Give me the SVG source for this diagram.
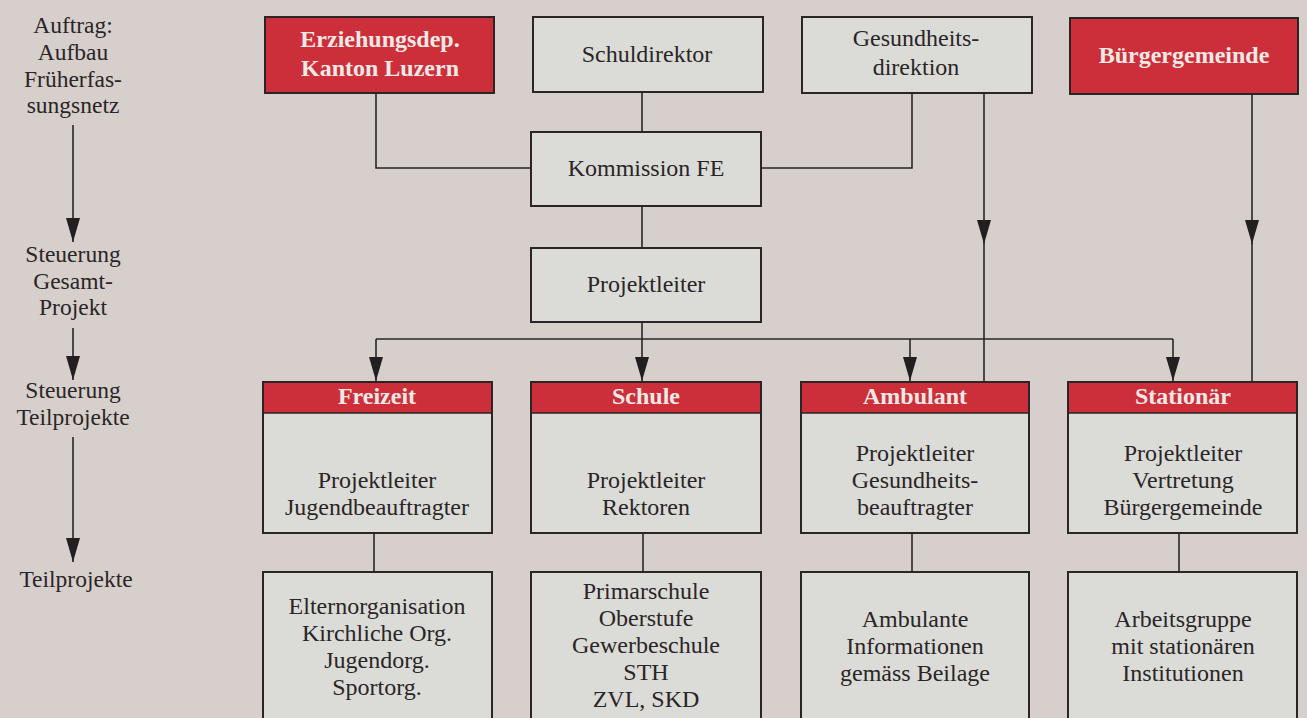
<svg xmlns="http://www.w3.org/2000/svg" width="1307" height="718" viewBox="0 0 1307 718">
<defs>
<style>
.bg{fill:#d7cfcc}
.box{fill:#dbdcd8;stroke:#2b2526;stroke-width:2}
.red{fill:#cd2f3a;stroke:#2b2526;stroke-width:2}
.hdr{fill:#cd2f3a}
.t{font-family:"Liberation Serif","Times New Roman",serif;font-size:24px;fill:#2a2526;text-anchor:middle}
.l{font-family:"Liberation Serif","Times New Roman",serif;font-size:23.5px;fill:#2a2526;text-anchor:middle}
.tb{font-family:"Liberation Serif","Times New Roman",serif;font-size:24px;font-weight:bold;fill:#efe9e6;text-anchor:middle}
.c{fill:none;stroke:#2b2526;stroke-width:1.6}
</style>
<marker id="ah" markerUnits="userSpaceOnUse" markerWidth="26" markerHeight="16" viewBox="0 -8 26 16" refX="24" refY="0" orient="auto">
<path d="M0,-7 L24,0 L0,7 Z" fill="#231e1f"/>
</marker>
</defs>
<rect class="bg" x="0" y="0" width="1307" height="718"/>

<g id="levels">
<text class="l" x="73" y="33">Auftrag:</text>
<text class="l" x="73" y="60">Aufbau</text>
<text class="l" x="73" y="86.5">Früherfas-</text>
<text class="l" x="73" y="113">sungsnetz</text>
<text class="l" x="73" y="262">Steuerung</text>
<text class="l" x="73" y="288.5">Gesamt-</text>
<text class="l" x="73" y="315">Projekt</text>
<text class="l" x="73" y="398">Steuerung</text>
<text class="l" x="73" y="425">Teilprojekte</text>
<text class="l" x="76" y="587">Teilprojekte</text>
</g>

<g id="connectors">
<path class="c" d="M73,125 V242" marker-end="url(#ah)"/>
<path class="c" d="M73,328 V380" marker-end="url(#ah)"/>
<path class="c" d="M73,437 V562" marker-end="url(#ah)"/>
<path class="c" d="M376,93 V168 H531"/>
<path class="c" d="M642,92 V132"/>
<path class="c" d="M912,93 V168 H761"/>
<path class="c" d="M642,206 V248"/>
<path class="c" d="M376,339 H1173"/>
<path class="c" d="M376,339 V381" marker-end="url(#ah)"/>
<path class="c" d="M642,322 V381" marker-end="url(#ah)"/>
<path class="c" d="M910,339 V381" marker-end="url(#ah)"/>
<path class="c" d="M1173,339 V381" marker-end="url(#ah)"/>
<path class="c" d="M984,93 V244" marker-end="url(#ah)"/>
<path class="c" d="M984,243 V382"/>
<path class="c" d="M1252,94 V244" marker-end="url(#ah)"/>
<path class="c" d="M1252,243 V382"/>
<path class="c" d="M374,533 V572"/>
<path class="c" d="M643,533 V572"/>
<path class="c" d="M912,533 V572"/>
<path class="c" d="M1179,533 V572"/>
</g>

<g id="erziehungsdep">
<rect class="red" x="265" y="17" width="229" height="76"/>
<text class="tb" x="380" y="47">Erziehungsdep.</text>
<text class="tb" x="380" y="76">Kanton Luzern</text>
</g>
<g id="schuldirektor">
<rect class="box" x="533" y="17" width="230" height="75"/>
<text class="t" x="647" y="62">Schuldirektor</text>
</g>
<g id="gesundheitsdirektion">
<rect class="box" x="802" y="17" width="230" height="76"/>
<text class="t" x="916" y="46">Gesundheits-</text>
<text class="t" x="916" y="75">direktion</text>
</g>
<g id="buergergemeinde">
<rect class="red" x="1070" y="18" width="228" height="76"/>
<text class="tb" x="1184" y="63">Bürgergemeinde</text>
</g>
<g id="kommission">
<rect class="box" x="531" y="132" width="230" height="74"/>
<text class="t" x="646" y="176">Kommission FE</text>
</g>
<g id="projektleiter">
<rect class="box" x="531" y="248" width="230" height="74"/>
<text class="t" x="646" y="292">Projektleiter</text>
</g>

<g id="freizeit">
<rect class="box" x="263" y="382" width="229" height="151"/>
<rect class="hdr" x="264" y="383" width="227" height="30"/>
<line class="c" x1="263" y1="413" x2="492" y2="413" stroke-width="1"/>
<text class="tb" x="377" y="404">Freizeit</text>
<text class="t" x="377" y="488">Projektleiter</text>
<text class="t" x="377" y="515">Jugendbeauftragter</text>
</g>
<g id="schule">
<rect class="box" x="531" y="382" width="230" height="151"/>
<rect class="hdr" x="532" y="383" width="228" height="30"/>
<line class="c" x1="531" y1="413" x2="761" y2="413" stroke-width="1"/>
<text class="tb" x="646" y="404">Schule</text>
<text class="t" x="646" y="488">Projektleiter</text>
<text class="t" x="646" y="515">Rektoren</text>
</g>
<g id="ambulant">
<rect class="box" x="801" y="382" width="228" height="151"/>
<rect class="hdr" x="802" y="383" width="226" height="30"/>
<line class="c" x1="801" y1="413" x2="1029" y2="413" stroke-width="1"/>
<text class="tb" x="915" y="404">Ambulant</text>
<text class="t" x="915" y="461">Projektleiter</text>
<text class="t" x="915" y="488">Gesundheits-</text>
<text class="t" x="915" y="515">beauftragter</text>
</g>
<g id="stationaer">
<rect class="box" x="1068" y="382" width="229" height="151"/>
<rect class="hdr" x="1069" y="383" width="227" height="30"/>
<line class="c" x1="1068" y1="413" x2="1297" y2="413" stroke-width="1"/>
<text class="tb" x="1183" y="404">Stationär</text>
<text class="t" x="1183" y="461">Projektleiter</text>
<text class="t" x="1183" y="488">Vertretung</text>
<text class="t" x="1183" y="515">Bürgergemeinde</text>
</g>

<g id="tp-freizeit">
<rect class="box" x="263" y="572" width="229" height="160"/>
<text class="t" x="377" y="614">Elternorganisation</text>
<text class="t" x="377" y="641">Kirchliche Org.</text>
<text class="t" x="377" y="668">Jugendorg.</text>
<text class="t" x="377" y="695">Sportorg.</text>
</g>
<g id="tp-schule">
<rect class="box" x="531" y="572" width="230" height="160"/>
<text class="t" x="646" y="599">Primarschule</text>
<text class="t" x="646" y="626">Oberstufe</text>
<text class="t" x="646" y="653">Gewerbeschule</text>
<text class="t" x="646" y="680">STH</text>
<text class="t" x="646" y="707">ZVL, SKD</text>
</g>
<g id="tp-ambulant">
<rect class="box" x="801" y="572" width="228" height="160"/>
<text class="t" x="915" y="627">Ambulante</text>
<text class="t" x="915" y="654">Informationen</text>
<text class="t" x="915" y="681">gemäss Beilage</text>
</g>
<g id="tp-stationaer">
<rect class="box" x="1068" y="572" width="229" height="160"/>
<text class="t" x="1183" y="627">Arbeitsgruppe</text>
<text class="t" x="1183" y="654">mit stationären</text>
<text class="t" x="1183" y="681">Institutionen</text>
</g>
</svg>
